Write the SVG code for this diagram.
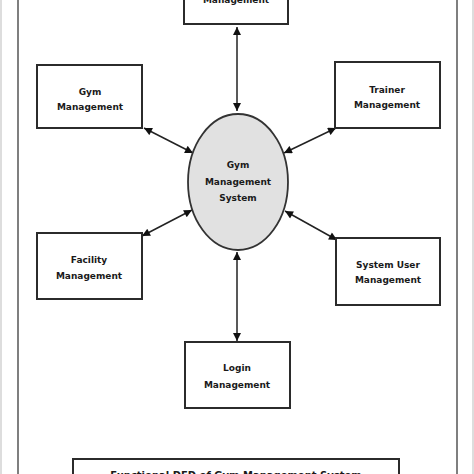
<svg xmlns="http://www.w3.org/2000/svg" width="474" height="474" viewBox="0 0 474 474">
<style>
.box{fill:#fff;stroke:#2b2b2b;stroke-width:2}
.t{font-family:"DejaVu Sans",sans-serif;font-weight:bold;font-size:9px;fill:#1a1a1a;text-anchor:middle}
.c{stroke:#222;stroke-width:1.5;fill:none;marker-start:url(#a);marker-end:url(#a)}
</style>
<defs>
<marker id="a" viewBox="0 0 10 10" refX="10" refY="5" markerWidth="9" markerHeight="8" orient="auto-start-reverse" markerUnits="userSpaceOnUse">
<path d="M0,0 L10,5 L0,10 z" fill="#111"/>
</marker>
</defs>
<rect x="0" y="0" width="474" height="474" fill="#fff"/>
<rect x="0" y="0" width="2" height="474" fill="#ddd"/>
<rect x="472" y="0" width="2" height="474" fill="#ddd"/>
<line x1="18" y1="0" x2="18" y2="474" stroke="#555" stroke-width="1.5"/>
<line x1="457" y1="0" x2="457" y2="474" stroke="#555" stroke-width="1.5"/>
<g id="connectors">
<line class="c" x1="237" y1="27" x2="237" y2="111"/>
<line class="c" x1="144" y1="128" x2="193" y2="153"/>
<line class="c" x1="336" y1="128" x2="284" y2="153"/>
<line class="c" x1="142" y1="236" x2="192" y2="210"/>
<line class="c" x1="337" y1="240" x2="285" y2="211"/>
<line class="c" x1="237" y1="252" x2="237" y2="341"/>
</g>
<g id="top"><rect class="box" x="184" y="-20" width="104" height="44"/><text class="t" x="236" y="3">Management</text></g>
<g id="gym"><rect class="box" x="37" y="65" width="105" height="63"/><text class="t" x="90" y="95">Gym</text><text class="t" x="90" y="110">Management</text></g>
<g id="trainer"><rect class="box" x="335" y="62" width="105" height="66"/><text class="t" x="387" y="93">Trainer</text><text class="t" x="387" y="108">Management</text></g>
<g id="system"><ellipse cx="238" cy="182" rx="50" ry="68" fill="#e1e1e1" stroke="#333" stroke-width="1.8"/><text class="t" x="238" y="168">Gym</text><text class="t" x="238" y="185">Management</text><text class="t" x="238" y="201">System</text></g>
<g id="facility"><rect class="box" x="37" y="233" width="105" height="66"/><text class="t" x="89" y="263">Facility</text><text class="t" x="89" y="279">Management</text></g>
<g id="sysuser"><rect class="box" x="336" y="238" width="104" height="67"/><text class="t" x="388" y="268">System User</text><text class="t" x="388" y="283">Management</text></g>
<g id="login"><rect class="box" x="185" y="342" width="105" height="66"/><text class="t" x="237" y="371">Login</text><text class="t" x="237" y="388">Management</text></g>
<g id="caption"><rect class="box" x="73" y="459" width="326" height="30"/><text class="t" x="236" y="479" style="font-size:10px">Functional DFD of Gym Management System</text></g>
</svg>
